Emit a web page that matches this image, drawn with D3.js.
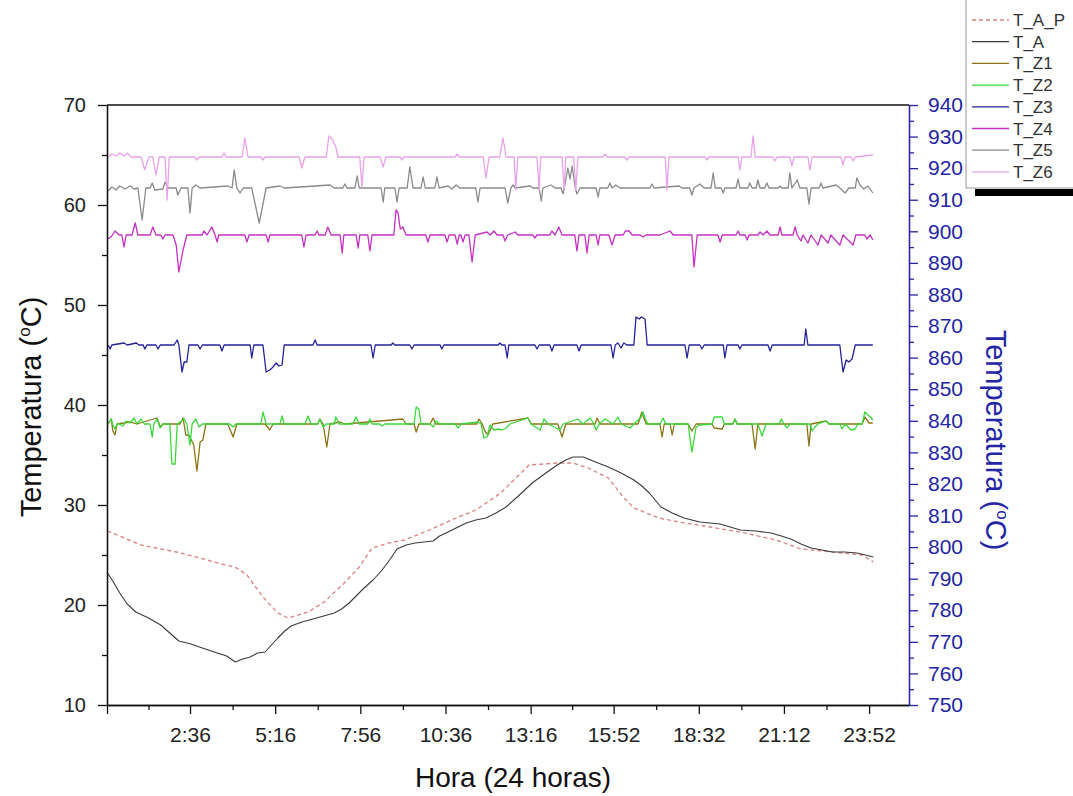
<!DOCTYPE html>
<html>
<head>
<meta charset="utf-8">
<script src="https://cdn.jsdelivr.net/npm/d3@7"></script>
<style>
  body { margin: 0; background: #fff; }
  svg { display: block; font-family: "Liberation Sans", Arial, sans-serif; }
  .narrow { font-family: "Liberation Sans Narrow", "Arial Narrow", "Liberation Sans", Arial, sans-serif; font-stretch: condensed; }
</style>
</head>
<body>
<svg id="chart" width="1073" height="796"></svg>
<script>
// x values are minutes since 0:00, y values are degrees C (left axis)
const tickMinutes = [0, 156, 316, 476, 636, 796, 952, 1112, 1272, 1432];
const tickLabels = ["", "2:36", "5:16", "7:56", "10:36", "13:16", "15:52", "18:32", "21:12", "23:52"];
const leftTicks = [10, 20, 30, 40, 50, 60, 70];
const rightTicks = [750, 760, 770, 780, 790, 800, 810, 820, 830, 840, 850, 860, 870, 880, 890, 900, 910, 920, 930, 940];

const seriesNames = ["T_A_P", "T_A", "T_Z1", "T_Z2", "T_Z3", "T_Z4", "T_Z5", "T_Z6"];
const seriesColors = ["#d98282", "#3a3a3a", "#8a7414", "#3ad83a", "#23239c", "#c430c4", "#8a8a8a", "#e8a2e8"];

const tAP = [[1,27.4],[64,26.0],[130,25.3],[188,24.5],[244,23.7],[263,23.0],[293,20.8],[321,19.2],[340,18.7],
  [378,19.3],[408,20.3],[446,22.2],[474,23.8],[498,25.7],[530,26.2],[559,26.5],[606,27.5],[656,28.7],[693,29.5],
  [740,31.2],[793,34.0],[846,34.2],[876,34.2],[904,33.7],[942,32.7],[970,30.8],[990,29.7],[1037,28.7],[1075,28.3],
  [1133,27.8],[1190,27.3],[1257,26.5],[1304,25.6],[1363,25.3],[1419,25.0],[1440,24.3]];

const tA = [[1,23.2],[12,22.3],[24,21.2],[38,20.1],[54,19.3],[78,18.7],[101,18.0],[118,17.2],[135,16.4],[158,16.1],
  [179,15.7],[207,15.2],[225,14.9],[241,14.3],[255,14.6],[269,14.8],[283,15.2],[297,15.3],[309,16.0],[321,16.7],
  [334,17.4],[346,17.9],[366,18.3],[387,18.6],[407,18.9],[427,19.2],[441,19.6],[455,20.2],[470,21.0],[483,21.7],
  [500,22.5],[517,23.5],[531,24.5],[545,25.6],[562,26.0],[579,26.2],[596,26.3],[613,26.4],[625,26.9],[637,27.2],
  [656,27.7],[675,28.2],[693,28.5],[712,28.7],[731,29.2],[750,29.8],[775,31.0],[799,32.2],[822,33.1],[846,34.0],
  [862,34.5],[876,34.8],[895,34.8],[918,34.3],[942,33.8],[966,33.2],[990,32.5],[1005,31.9],[1019,31.2],[1030,30.5],
  [1041,29.8],[1062,29.2],[1084,28.7],[1114,28.3],[1133,28.2],[1152,28.1],[1171,27.8],[1190,27.5],[1219,27.4],
  [1248,27.2],[1267,26.9],[1285,26.6],[1304,26.1],[1323,25.7],[1343,25.5],[1363,25.3],[1386,25.3],[1409,25.2],
  [1425,25.0],[1440,24.8]];

const tZ1 = [[2,38.1],[8,38.6],[11,37.4],[15,37.0],[19,38.1],[43,38.3],[56,38.1],[94,38.7],[100,37.8],[105,38.1],
  [137,38.1],[143,38.7],[148,37.0],[154,37.0],[163,36.0],[169,33.4],[175,36.3],[180,36.5],[186,38.1],
  [227,38.1],[237,36.8],[244,38.1],[297,38.1],[306,37.5],[312,38.1],[396,38.1],[400,38.6],[406,38.1],[413,35.8],
  [419,38.1],[438,38.3],[447,38.1],[556,38.6],[562,38.1],[577,38.1],[581,37.3],[586,38.1],[607,38.1],[613,38.7],
  [618,38.1],[695,38.1],[699,38.6],[705,38.1],[710,37.4],[716,37.0],[725,38.1],[791,38.7],[797,38.1],[847,38.1],
  [855,36.8],[862,38.1],[917,38.1],[921,38.7],[926,38.1],[998,38.1],[1005,39.3],[1013,38.1],[1039,38.1],[1043,36.8],
  [1047,38.1],[1058,38.1],[1062,37.0],[1066,38.1],[1092,38.1],[1099,37.4],[1107,38.1],[1137,38.1],[1141,37.7],
  [1156,37.6],[1160,38.1],[1176,38.1],[1180,38.6],[1184,38.1],[1212,38.1],[1218,35.6],[1223,38.1],[1315,38.1],
  [1319,35.9],[1323,38.1],[1351,38.4],[1357,38.1],[1419,38.1],[1424,38.8],[1432,38.2],[1439,38.2]];

const tZ2 = [[2,38.1],[8,38.6],[11,38.0],[15,37.6],[19,38.1],[24,38.1],[30,37.9],[36,38.4],[43,38.2],[51,38.7],
  [56,38.1],[64,38.6],[70,38.1],[81,38.1],[85,36.8],[88,38.1],[94,38.6],[100,37.7],[105,38.1],[118,38.1],[122,34.1],
  [128,34.1],[132,38.1],[145,38.6],[150,38.1],[156,36.0],[160,38.1],[167,38.6],[173,37.8],[179,38.1],[231,38.1],
  [237,37.8],[242,38.1],[289,38.1],[293,39.3],[299,38.1],[325,38.1],[329,38.9],[333,38.1],[372,38.1],[378,38.9],
  [383,38.1],[396,38.1],[400,38.6],[406,37.8],[412,38.1],[427,38.1],[430,38.8],[436,38.1],[462,38.1],[468,38.8],
  [474,38.1],[490,38.1],[494,38.6],[498,38.1],[513,38.1],[517,37.9],[522,38.1],[577,38.1],[581,39.8],[586,39.6],
  [590,38.1],[607,38.1],[613,37.8],[618,38.4],[626,38.1],[654,38.1],[660,37.7],[665,38.1],[697,38.3],[703,38.1],
  [708,36.7],[714,36.8],[720,38.0],[727,37.5],[735,37.6],[742,37.5],[750,37.7],[757,38.1],[791,38.7],[797,38.1],
  [814,37.5],[821,38.6],[829,38.1],[851,37.5],[857,38.1],[885,38.6],[894,38.1],[908,38.7],[915,38.1],[919,37.5],
  [925,38.1],[936,38.6],[951,38.1],[960,38.8],[966,38.1],[983,37.7],[990,38.1],[1004,38.8],[1007,39.3],[1013,38.4],
  [1017,38.1],[1039,38.1],[1045,38.7],[1050,38.1],[1092,38.1],[1099,35.3],[1107,37.8],[1114,38.0],[1137,38.1],
  [1141,38.8],[1156,38.8],[1160,38.1],[1176,38.1],[1180,38.6],[1184,38.1],[1223,38.1],[1231,36.9],[1238,38.1],
  [1263,38.1],[1267,38.6],[1272,38.1],[1278,37.7],[1283,38.1],[1321,38.1],[1325,37.4],[1330,37.8],[1336,38.1],
  [1351,38.4],[1357,38.1],[1377,38.1],[1381,37.6],[1387,38.1],[1398,37.5],[1406,37.6],[1411,38.1],[1419,38.1],
  [1424,39.3],[1430,39.0],[1436,38.7],[1439,38.5]];

const tZ3 = [[2,46.0],[6,45.6],[9,46.0],[32,46.2],[38,46.0],[55,46.2],[60,46.0],[68,46.0],[71,45.6],[75,46.0],
  [92,46.0],[96,45.6],[100,46.0],[126,46.0],[132,46.5],[135,46.0],[141,43.3],[145,44.3],[150,44.3],[154,46.0],
  [171,46.0],[175,45.6],[179,46.0],[212,46.0],[216,45.4],[220,46.0],[269,46.0],[272,44.7],[276,46.0],[293,46.0],
  [299,43.3],[306,43.5],[312,43.8],[318,44.2],[323,43.9],[329,44.0],[333,46.0],[387,46.0],[391,46.5],[395,46.0],
  [496,46.0],[500,44.7],[504,46.0],[534,46.0],[537,46.2],[541,46.0],[569,46.0],[573,45.6],[577,46.0],[626,46.0],
  [629,45.6],[633,46.0],[735,46.0],[738,46.2],[742,46.0],[748,46.0],[752,44.7],[755,46.0],[804,46.0],[808,45.6],
  [812,46.0],[832,46.0],[836,45.4],[840,46.0],[883,46.0],[887,45.4],[891,46.0],[947,46.0],[951,44.7],[955,46.0],
  [960,46.2],[966,45.7],[971,46.2],[977,46.0],[990,46.0],[994,48.8],[1000,48.6],[1004,48.8],[1011,48.6],[1015,46.0],
  [1086,46.0],[1090,44.7],[1094,46.0],[1114,46.0],[1118,45.6],[1122,46.0],[1158,46.0],[1161,44.7],[1165,46.0],
  [1186,46.0],[1189,45.6],[1193,46.0],[1242,46.0],[1246,45.4],[1250,46.0],[1310,46.0],[1313,47.6],[1317,46.0],
  [1377,46.0],[1383,43.3],[1389,44.5],[1394,44.3],[1400,44.6],[1406,46.0],[1439,46.0]];

const tZ4 = [[2,56.6],[9,56.9],[15,57.4],[23,57.0],[28,57.0],[32,55.8],[36,57.0],[47,57.0],[53,58.2],[58,57.0],
  [81,57.0],[86,57.8],[92,57.0],[101,57.0],[105,56.6],[109,57.0],[124,57.0],[130,56.0],[135,53.3],[143,55.5],
  [150,57.0],[179,57.0],[182,57.4],[188,57.0],[197,57.8],[203,57.0],[207,56.3],[210,57.0],[259,57.0],[263,56.3],
  [267,57.0],[299,57.0],[303,56.3],[306,57.0],[366,57.0],[370,55.8],[374,57.0],[391,57.0],[395,57.4],[398,57.0],
  [410,57.0],[415,57.8],[421,57.0],[438,57.0],[442,55.2],[445,57.0],[468,57.0],[472,55.7],[475,57.0],[490,57.0],
  [494,55.4],[498,57.0],[539,57.0],[543,59.5],[547,59.2],[551,57.6],[556,57.8],[562,57.0],[599,57.0],[603,56.3],
  [607,57.0],[635,57.0],[639,56.3],[643,57.0],[654,57.0],[658,56.1],[662,57.0],[665,57.0],[669,56.3],[673,57.0],
  [680,57.0],[686,54.3],[692,57.0],[714,57.3],[720,57.0],[727,57.4],[733,57.0],[744,57.0],[748,56.4],[753,57.0],
  [767,57.3],[772,57.0],[800,57.0],[804,56.7],[808,57.0],[832,57.0],[836,57.4],[842,57.0],[849,57.8],[855,57.0],
  [879,57.0],[883,55.4],[887,57.0],[898,57.0],[902,55.2],[906,57.0],[919,57.0],[923,56.0],[926,57.0],[943,57.0],
  [949,56.0],[955,57.0],[970,57.0],[974,57.4],[981,57.4],[987,57.0],[1002,57.0],[1007,56.8],[1013,57.0],[1039,57.0],
  [1058,57.4],[1064,57.0],[1099,57.0],[1103,53.8],[1109,57.0],[1148,57.0],[1152,56.3],[1156,57.0],[1182,57.0],
  [1186,57.4],[1189,57.0],[1199,57.0],[1203,56.5],[1206,57.0],[1223,57.0],[1227,57.3],[1233,57.0],[1240,57.4],
  [1246,57.0],[1261,57.0],[1265,57.8],[1268,57.0],[1289,57.0],[1293,57.8],[1297,57.0],[1304,56.4],[1308,57.0],
  [1317,56.2],[1323,57.0],[1336,56.0],[1342,57.0],[1355,56.2],[1360,57.0],[1377,56.0],[1383,57.0],[1402,56.0],
  [1407,57.0],[1424,57.0],[1428,56.6],[1434,57.0],[1439,56.5]];

const tZ5 = [[2,61.4],[9,61.8],[17,61.5],[24,61.9],[34,61.6],[43,61.9],[51,61.6],[58,61.7],[66,58.5],[73,61.7],
  [81,61.7],[85,62.2],[90,61.5],[105,61.6],[109,62.3],[115,61.7],[130,61.7],[133,61.0],[139,61.7],[152,61.7],
  [156,59.2],[160,61.7],[167,62.0],[175,61.7],[227,61.9],[235,61.7],[239,63.5],[244,61.7],[250,61.2],[256,61.7],
  [272,61.7],[286,58.2],[299,61.7],[325,61.9],[333,61.7],[391,61.9],[419,62.0],[427,61.7],[443,61.7],[447,62.1],
  [451,61.7],[466,61.7],[470,62.9],[474,61.7],[515,61.7],[519,60.3],[522,61.7],[541,61.7],[545,60.3],[549,61.7],
  [564,61.7],[569,63.8],[575,61.7],[590,61.7],[594,62.8],[598,61.7],[616,61.7],[620,62.8],[624,61.7],[641,61.9],
  [648,61.6],[656,62.0],[663,61.7],[693,61.7],[697,60.3],[701,61.7],[748,61.7],[753,60.2],[759,61.7],[763,62.0],
  [767,61.7],[795,61.9],[800,61.7],[812,61.7],[816,60.4],[819,61.7],[834,62.0],[842,61.7],[853,61.7],[857,61.1],
  [862,62.5],[866,63.7],[870,62.6],[874,63.9],[880,61.7],[883,61.1],[889,61.7],[919,61.7],[923,60.8],[926,61.7],
  [941,61.7],[945,62.2],[949,61.7],[956,62.0],[964,61.7],[1020,61.7],[1024,62.1],[1028,61.7],[1075,61.9],[1080,61.7],
  [1095,61.7],[1099,61.0],[1103,61.7],[1114,62.1],[1122,61.7],[1135,61.7],[1139,63.2],[1143,61.7],[1154,61.7],
  [1158,61.2],[1161,61.7],[1182,61.7],[1186,62.6],[1189,61.7],[1204,61.7],[1208,62.2],[1212,61.7],[1220,61.7],
  [1223,62.5],[1227,61.7],[1236,61.7],[1240,62.2],[1244,61.7],[1261,61.7],[1265,61.9],[1268,61.7],[1280,61.7],
  [1283,63.2],[1287,61.7],[1297,62.5],[1302,61.7],[1315,61.7],[1319,60.1],[1323,61.7],[1338,61.7],[1342,62.2],
  [1345,61.7],[1370,62.0],[1377,61.7],[1387,61.2],[1394,61.7],[1406,61.7],[1409,62.7],[1415,62.0],[1422,61.6],
  [1430,61.9],[1439,61.2]];

const tZ6 = [[2,64.8],[9,65.1],[17,64.9],[24,65.2],[32,64.9],[38,65.2],[45,64.8],[64,64.8],[71,63.5],[79,64.8],
  [86,64.8],[92,63.0],[98,64.8],[109,64.8],[113,60.5],[117,64.8],[165,64.8],[169,64.5],[173,64.8],[216,64.8],
  [220,65.2],[224,64.8],[254,64.8],[259,66.7],[265,64.8],[289,64.8],[293,64.5],[297,64.8],[361,64.8],[366,63.7],
  [372,64.8],[412,64.8],[417,66.9],[423,66.6],[430,65.8],[434,64.8],[475,64.8],[479,61.8],[483,64.8],[513,64.8],
  [519,63.8],[524,64.8],[551,64.8],[554,64.5],[558,64.8],[654,64.8],[658,65.1],[662,64.8],[707,64.8],[712,62.7],
  [718,64.8],[738,64.8],[744,66.7],[750,64.8],[765,64.8],[768,61.5],[772,64.8],[808,64.8],[812,61.5],[815,64.8],
  [855,64.8],[859,61.5],[862,64.8],[877,64.8],[881,61.5],[885,64.8],[932,64.8],[936,65.1],[940,64.8],[973,64.8],
  [977,64.5],[981,64.8],[1049,64.8],[1052,61.5],[1056,64.8],[1124,64.8],[1127,64.5],[1131,64.8],[1186,64.8],
  [1189,63.5],[1193,64.8],[1210,64.8],[1214,66.9],[1218,64.8],[1251,64.8],[1255,64.4],[1259,64.8],[1283,64.8],
  [1287,63.9],[1291,64.8],[1317,64.8],[1321,63.5],[1325,64.8],[1379,64.8],[1383,64.0],[1387,64.8],[1398,64.8],
  [1402,64.4],[1406,64.8],[1439,65.0]];

const seriesData = [tAP, tA, tZ1, tZ2, tZ3, tZ4, tZ5, tZ6];

const svg = d3.select("#chart");
const mLeft = 107, mRight = 909, mTop = 105, mBottom = 705;

const x = d3.scaleLinear().domain([0, 1507]).range([mLeft, mRight]);
const yL = d3.scaleLinear().domain([10, 70]).range([mBottom, mTop]);
const yR = d3.scaleLinear().domain([750, 940]).range([mBottom, mTop]);

// lines
const line = d3.line().x(d => x(d[0])).y(d => yL(d[1]));
const g = svg.append("g");
seriesData.forEach((data, i) => {
  g.append("path")
    .datum(data)
    .attr("d", line)
    .attr("fill", "none")
    .attr("stroke", seriesColors[i])
    .attr("stroke-width", i == 1 ? 1.1 : 1.3)
    .attr("stroke-linejoin", "round")
    .attr("stroke-dasharray", i == 0 ? "4,3" : null);
});

// frame top
svg.append("line")
  .attr("x1", mLeft).attr("x2", mRight).attr("y1", mTop).attr("y2", mTop)
  .attr("stroke", "#111").attr("stroke-width", 1.3);

// left axis
const minorLeft = [15, 25, 35, 45, 55, 65];
svg.append("g").attr("transform", `translate(${mLeft},0)`)
  .call(d3.axisLeft(yL).tickValues(minorLeft).tickSize(5).tickSizeOuter(0).tickFormat(""));
const axL = svg.append("g").attr("transform", `translate(${mLeft},0)`)
  .call(d3.axisLeft(yL).tickValues(leftTicks).tickSize(9).tickSizeOuter(0).tickPadding(12));
axL.selectAll("text").attr("font-size", 20).attr("fill", "#222");

// bottom axis
const minorBottom = tickMinutes.slice(0, -1).map((d, i) => (d + tickMinutes[i + 1]) / 2);
svg.append("g").attr("transform", `translate(0,${mBottom})`)
  .call(d3.axisBottom(x).tickValues(minorBottom).tickSize(5).tickSizeOuter(0).tickFormat(""));
const axB = svg.append("g").attr("transform", `translate(0,${mBottom})`)
  .call(d3.axisBottom(x).tickValues(tickMinutes).tickSize(9).tickSizeOuter(0).tickPadding(13)
    .tickFormat((d, i) => tickLabels[i]));
axB.selectAll("text").attr("class", "narrow").attr("font-size", 21).attr("fill", "#222");

svg.selectAll(".domain, .tick line").attr("stroke", "#111").attr("stroke-width", 1.3);

// right axis (blue)
const blue = "#2424a6";
const minorRight = rightTicks.slice(0, -1).map(d => d + 5);
const axRm = svg.append("g").attr("transform", `translate(${mRight},0)`)
  .call(d3.axisRight(yR).tickValues(minorRight).tickSize(5).tickSizeOuter(0).tickFormat(""));
const axR = svg.append("g").attr("transform", `translate(${mRight},0)`)
  .call(d3.axisRight(yR).tickValues(rightTicks).tickSize(9).tickSizeOuter(0).tickPadding(10));
axR.selectAll("text").attr("font-size", 21).attr("fill", blue);
[axR, axRm].forEach(a => a.selectAll(".domain, .tick line").attr("stroke", blue).attr("stroke-width", 1.3));

// axis titles
function tempTitle(sel) {
  sel.append("tspan").text("Temperatura (");
  sel.append("tspan").attr("font-size", 17).attr("dy", -11).text("o");
  sel.append("tspan").attr("dy", 11).text("C)");
}
svg.append("text")
  .attr("transform", "translate(41,407) rotate(-90)")
  .attr("text-anchor", "middle").attr("font-size", 29).attr("fill", "#111")
  .call(tempTitle);
svg.append("text")
  .attr("transform", "translate(986,440) rotate(90)")
  .attr("text-anchor", "middle").attr("font-size", 29).attr("fill", blue)
  .call(tempTitle);
svg.append("text")
  .attr("x", 513).attr("y", 787)
  .attr("text-anchor", "middle").attr("font-size", 28).attr("fill", "#111")
  .text("Hora (24 horas)");

// legend
const lg = svg.append("g");
lg.append("rect").attr("x", 975).attr("y", 189).attr("width", 110).attr("height", 7).attr("fill", "#000");
lg.append("rect").attr("x", 966).attr("y", -2).attr("width", 120).attr("height", 190)
  .attr("fill", "#fff").attr("stroke", "#999").attr("stroke-width", 1);
seriesNames.forEach((name, i) => {
  const yy = 20 + i * 21.7;
  lg.append("line")
    .attr("x1", 972).attr("x2", 1009).attr("y1", yy).attr("y2", yy)
    .attr("stroke", seriesColors[i]).attr("stroke-width", 1.3)
    .attr("stroke-dasharray", i == 0 ? "4,3" : null);
  lg.append("text")
    .attr("x", 1013).attr("y", yy + 6)
    .attr("font-size", 17).attr("fill", "#333")
    .text(name);
});
</script>
</body>
</html>
